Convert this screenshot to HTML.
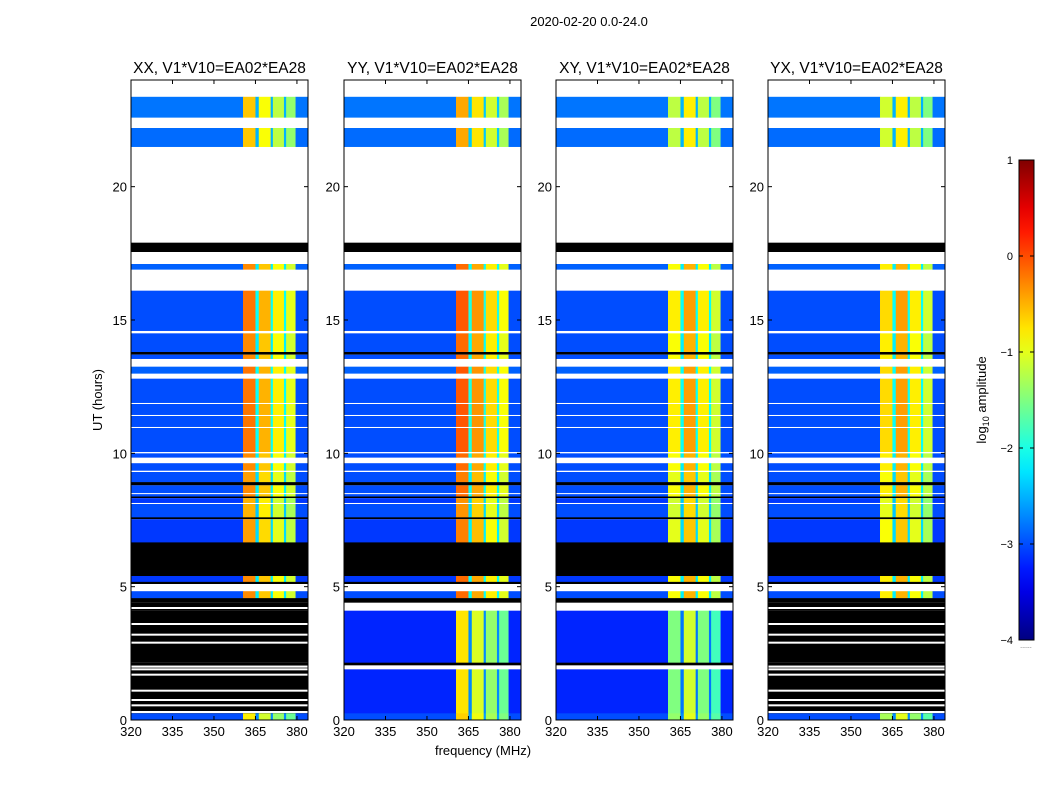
<!DOCTYPE html>
<html><head><meta charset="utf-8"><style>
body{margin:0;background:#fff;}
svg{display:block;font-family:"Liberation Sans",sans-serif;}
</style></head><body>
<svg id="fig" width="1050" height="800" xmlns="http://www.w3.org/2000/svg">
<text x="589" y="26" font-size="13" text-anchor="middle">2020-02-20 0.0-24.0</text>
<text x="483" y="755" font-size="13" text-anchor="middle">frequency (MHz)</text>
<text transform="translate(102,400) rotate(-90)" font-size="13" text-anchor="middle">UT (hours)</text>
<text transform="translate(986,400) rotate(-90)" font-size="13" text-anchor="middle">log<tspan font-size="9" dy="3">10</tspan><tspan dy="-3"> amplitude</tspan></text>
</svg>
<script>
// ---- data ----
const panelTitles = ["XX, V1*V10=EA02*EA28","YY, V1*V10=EA02*EA28","XY, V1*V10=EA02*EA28","YX, V1*V10=EA02*EA28"];
const xTicks = [320,335,350,365,380];
const yTicks = [0,5,10,15,20];
const cbTicks = [1,0,-1,-2,-3,-4];
const cbTickLabels = ["1","0","\u22121","\u22122","\u22123","\u22124"];
// frequency bands: [start MHz, end MHz, band index (-1 = background, 4 = dip)]
const bandStart = [320,360.5,365,366.2,370.5,371.3,375.3,376.1,379.5];
const bandEnd   = [360.5,365,366.2,370.5,371.3,375.3,376.1,379.5,384];
const bandIdx   = [-1,0,4,1,4,2,4,3,-1];
// band log-amplitude levels per panel: [A,B,C,D,dip]
const bandLevels = [
  [-0.3,-0.6,-0.9,-1.1,-2.2],
  [-0.15,-0.45,-0.8,-1.0,-2.1],
  [-0.9,-0.5,-0.9,-1.2,-2.2],
  [-0.8,-0.5,-0.9,-1.2,-2.2]
];
// time segments: [hour start, hour end, type(w=blank,k=flagged,d=data), background level, band shift]
const segments = [
  [23.37,24,'w',0,0],[22.6,23.37,'d',-2.8,-0.3],[22.2,22.6,'w',0,0],[21.5,22.2,'d',-2.85,-0.3],
  [17.9,21.5,'w',0,0],[17.55,17.9,'k',0,0],[17.1,17.55,'w',0,0],[16.9,17.1,'d',-2.9,0],
  [16.1,16.9,'w',0,0],[14.6,16.1,'d',-3.0,0.1],[14.5,14.6,'w',0,0],[13.8,14.5,'d',-3.0,0],
  [13.7,13.8,'k',0,0],[13.55,13.7,'d',-3.0,0],[13.25,13.55,'w',0,0],[13.0,13.25,'d',-2.9,0.1],
  [12.8,13.0,'w',0,0],[11.9,12.8,'d',-3.0,0.1],[11.85,11.9,'w',0,0],[11.45,11.85,'d',-3.0,0.1],
  [11.4,11.45,'w',0,0],[11.0,11.4,'d',-3.0,0.1],[10.95,11.0,'w',0,0],[10.06,10.95,'d',-3.0,0.1],
  [10.0,10.06,'w',0,0],[9.85,10.0,'d',-3.0,0],[9.63,9.85,'w',0,0],[9.36,9.63,'d',-3.0,0],
  [9.3,9.36,'w',0,0],[8.92,9.3,'d',-3.0,-0.1],[8.8,8.92,'k',0,0],[8.52,8.8,'d',-3.0,0],
  [8.47,8.52,'w',0,0],[8.38,8.47,'d',-3.0,0],[8.32,8.38,'k',0,0],[8.15,8.32,'d',-3.1,-0.2],
  [8.1,8.15,'w',0,0],[7.6,8.1,'d',-3.0,-0.2],[7.53,7.6,'k',0,0],[6.66,7.53,'d',-3.1,-0.1],
  [6.6,6.66,'k',0,0],[5.4,6.6,'k',0,0],[5.18,5.4,'d',-3.1,0],[5.1,5.18,'k',0,0],
  [4.83,5.1,'w',0,0],[4.57,4.83,'d',-3.0,0],[4.4,4.57,'k',0,0],[4.1,4.4,'w',0,0],
  [2.15,4.1,'d',-3.2,-0.6],[2.05,2.15,'k',0,0],[1.9,2.05,'w',0,0],[0.25,1.9,'d',-3.2,-0.6],
  [0,0.25,'d',-3.0,-0.5]
];
// whether hours 0..4.4 are flagged (black) in each panel
const bottomFlagged = [true,false,false,true];
const flaggedLinesHours = [4.2,3.6,3.2,2.9,2.0,1.9,1.7,1.1,0.75,0.55,0.3];

// ---- geometry ----
const panelX = [131,344,556,768];
const PW = 177, PT = 80, PB = 720;
const FMIN = 320, FMAX = 384, HMAX = 24;
const NS = "http://www.w3.org/2000/svg";
const svg = document.getElementById('fig');
function xs(p,f){return panelX[p] + (f-FMIN)/(FMAX-FMIN)*PW;}
function ys(h){return PB - h/HMAX*(PB-PT);}
function jet(v){
  let t=(v+4)/5; t=Math.max(0,Math.min(1,t));
  const c=x=>Math.round(255*Math.max(0,Math.min(1,x)));
  return `rgb(${c(1.5-Math.abs(4*t-3))},${c(1.5-Math.abs(4*t-2))},${c(1.5-Math.abs(4*t-1))})`;
}
function mk(tag,attrs,parent){const e=document.createElementNS(NS,tag);for(const k in attrs)e.setAttribute(k,attrs[k]);(parent||svg).appendChild(e);return e;}

for(let p=0;p<4;p++){
  const g=mk('g',{});
  
  
  segments.forEach(s=>{
    const [h0,h1,type,base,shift]=s;
    const y0=ys(h1), y1=ys(h0);
    let t=type;
    if(bottomFlagged[p] && h1<=4.45 && h0>=0.25) t='k';
    if(t==='w') return;
    if(t==='k'){
      const r=mk('rect',{x:panelX[p],y:y0,width:PW,height:y1-y0,fill:'#000'},g);
      
      
      return;
    }
    for(let b=0;b<bandStart.length;b++){
      const bi=bandIdx[b];
      const v = bi<0 ? base : Math.max(base, bandLevels[p][bi]+shift);
      const x0=xs(p,bandStart[b]), x1=xs(p,bandEnd[b]);
      const r=mk('rect',{x:x0,y:y0,width:x1-x0+0.3,height:y1-y0+0.3,fill:jet(v)},g);
      
      
    }
  });
  if(bottomFlagged[p]){
    flaggedLinesHours.forEach(h=>{
      const r=mk('rect',{x:panelX[p],y:ys(h)-1,width:PW,height:2,fill:'#fff'},g);
      
      
    });
  }
  const fr=mk('rect',{x:panelX[p],y:PT,width:PW,height:PB-PT,fill:'none',stroke:'#000','stroke-width':1},g);
  
  
  const tt=mk('text',{x:panelX[p]+PW/2,y:73,'font-size':15.5,'text-anchor':'middle'},g);
  tt.textContent=panelTitles[p];
  
  
  xTicks.forEach(f=>{
    const x=xs(p,f);
    mk('line',{x1:x,y1:PB,x2:x,y2:PB-4,stroke:'#000'},g);
    mk('line',{x1:x,y1:PT,x2:x,y2:PT+4,stroke:'#000'},g);
    const l=mk('text',{x:x,y:PB+16,'font-size':13,'text-anchor':'middle'},g);
    l.textContent=f;
    
    
  });
  yTicks.forEach(h=>{
    const y=ys(h);
    mk('line',{x1:panelX[p],y1:y,x2:panelX[p]+4,y2:y,stroke:'#000'},g);
    mk('line',{x1:panelX[p]+PW,y1:y,x2:panelX[p]+PW-4,y2:y,stroke:'#000'},g);
    const l=mk('text',{x:panelX[p]-4,y:y+5,'font-size':13,'text-anchor':'end'},g);
    l.textContent=h;
    
    
  });
}
// colorbar
const CX=1019, CW=15, CT=160, CB=640;
function cy(v){return CB-(v+4)/5*(CB-CT);}
const defs=mk('defs',{});
const lg=mk('linearGradient',{id:'jetg',x1:0,y1:1,x2:0,y2:0},defs);
for(let i=0;i<=20;i++){mk('stop',{offset:i/20,'stop-color':jet(-4+5*i/20)},lg);}
const cb=mk('rect',{x:CX,y:CT,width:CW,height:CB-CT,fill:'url(#jetg)',stroke:'#000'});


cbTicks.forEach((v,i)=>{
  const y=cy(v);
  mk('line',{x1:CX,y1:y,x2:CX+4,y2:y,stroke:'#000'});
  mk('line',{x1:CX+CW,y1:y,x2:CX+CW-4,y2:y,stroke:'#000'});
  const l=mk('text',{x:1013,y:y+4,'font-size':11,'text-anchor':'end'});
  l.textContent=cbTickLabels[i];
  
  
});
const dots=mk('text',{x:1026,y:648,'font-size':7,'text-anchor':'middle',fill:'#555'});
dots.textContent='......';


</script>
</body></html>
